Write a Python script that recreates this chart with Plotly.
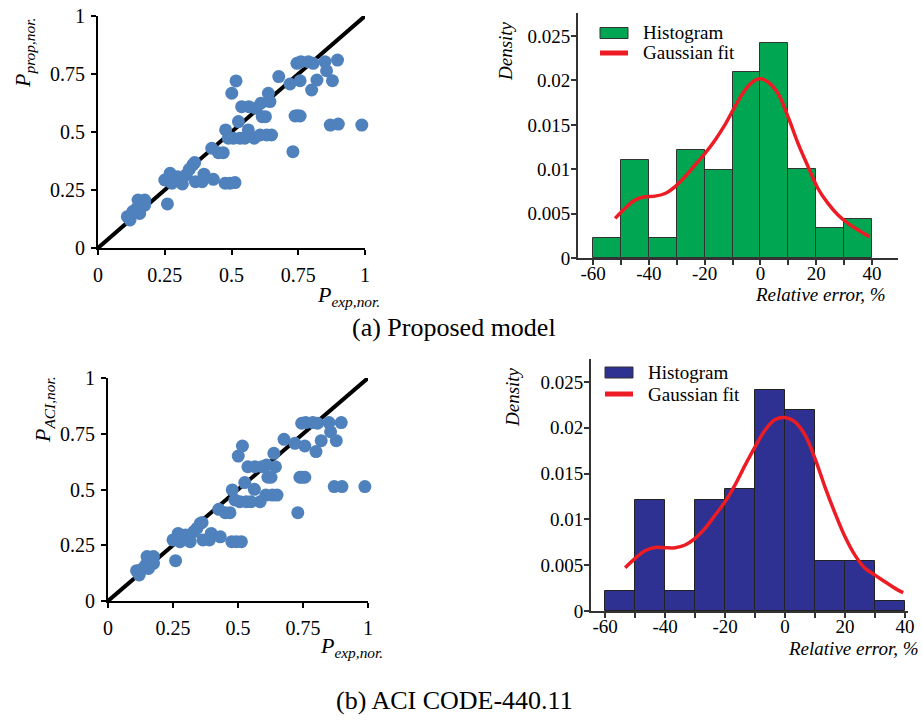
import plotly.graph_objects as go

# ---------------- data ----------------
# experimental normalized capacity (shared by both scatter panels)
p_exp = [0.11, 0.12, 0.13, 0.145, 0.15, 0.175, 0.163, 0.156, 0.175,
         0.26, 0.25, 0.27, 0.277, 0.298, 0.316, 0.33, 0.342, 0.355, 0.362,
         0.365, 0.397, 0.39, 0.432, 0.426, 0.451, 0.469, 0.476, 0.494, 0.513,
         0.478, 0.488, 0.526, 0.501, 0.517, 0.507, 0.532, 0.55, 0.563, 0.585,
         0.607, 0.632, 0.65, 0.538, 0.565, 0.592, 0.61, 0.615, 0.627, 0.638,
         0.644, 0.677, 0.719, 0.73, 0.738, 0.757, 0.745, 0.757, 0.788, 0.806,
         0.80, 0.82, 0.85, 0.856, 0.87, 0.878, 0.897, 0.90, 0.988, 0.76, 0.747]
# proposed model prediction
p_prop = [0.135, 0.121, 0.157, 0.171, 0.207, 0.207, 0.178, 0.149, 0.185,
          0.19, 0.293, 0.322, 0.279, 0.307, 0.276, 0.315, 0.339, 0.358, 0.368,
          0.286, 0.318, 0.286, 0.296, 0.43, 0.411, 0.411, 0.279, 0.279, 0.282,
          0.509, 0.473, 0.545, 0.667, 0.72, 0.473, 0.473, 0.473, 0.509, 0.473,
          0.487, 0.487, 0.487, 0.609, 0.609, 0.602, 0.624, 0.566, 0.566, 0.667,
          0.631, 0.739, 0.707, 0.415, 0.569, 0.569, 0.796, 0.721, 0.803, 0.796,
          0.681, 0.724, 0.803, 0.764, 0.530, 0.721, 0.81, 0.534, 0.530, 0.803, 0.57]
# ACI CODE-440.11 prediction
p_aci = [0.136, 0.117, 0.142, 0.161, 0.199, 0.199, 0.176, 0.146, 0.169,
         0.181, 0.274, 0.303, 0.266, 0.296, 0.266, 0.311, 0.326, 0.348, 0.352,
         0.274, 0.303, 0.274, 0.288, 0.411, 0.396, 0.396, 0.266, 0.266, 0.266,
         0.498, 0.453, 0.531, 0.650, 0.695, 0.445, 0.445, 0.445, 0.501, 0.445,
         0.475, 0.475, 0.475, 0.602, 0.602, 0.602, 0.61, 0.555, 0.555, 0.662,
         0.602, 0.725, 0.707, 0.396, 0.555, 0.555, 0.797, 0.695, 0.80, 0.797,
         0.67, 0.719, 0.80, 0.759, 0.513, 0.719, 0.80, 0.513, 0.513, 0.80, 0.555]
diag = [0, 1]

# histogram of relative error (%), bins of width 10 starting at -60
bin_left = [-60, -50, -40, -30, -20, -10, 0, 10, 20, 30]
dens_prop = [0.00225, 0.0110, 0.00225, 0.01216, 0.00995, 0.02096, 0.02425,
             0.0100, 0.00337, 0.00445]
dens_aci = [0.00222, 0.01206, 0.00222, 0.01206, 0.01334, 0.02416, 0.02198,
            0.00545, 0.00545, 0.00109]

# Gaussian fit curves
fit_x_prop = [-52.1, -48.6, -45.0, -41.4, -37.8, -34.2, -30.7, -27.1, -23.5,
              -19.9, -16.3, -12.8, -9.2, -5.6, -2.0, 0.0, 2.7, 6.3, 9.9, 13.5,
              17.1, 20.6, 24.2, 27.8, 31.4, 35.0, 39.1]
fit_y_prop = [0.00446, 0.00558, 0.00652, 0.0069, 0.00697, 0.00727, 0.00802,
              0.00915, 0.01046, 0.01177, 0.01327, 0.01496, 0.01702, 0.01889,
              0.02001, 0.0202, 0.01983, 0.01852, 0.01589, 0.01289, 0.01027,
              0.00783, 0.00615, 0.00484, 0.0039, 0.00315, 0.0024]
fit_x_aci = [-53.3, -50.0, -46.7, -43.3, -40.0, -36.7, -33.3, -30.0, -26.7,
             -23.3, -20.0, -16.7, -13.3, -10.0, -6.7, -3.3, 0.0, 3.3, 6.7,
             10.0, 13.3, 16.7, 20.0, 23.3, 26.7, 30.0, 33.3, 36.7, 39.4]
fit_y_aci = [0.00472, 0.00574, 0.00658, 0.00694, 0.0069, 0.0069, 0.0072,
             0.00792, 0.00901, 0.01047, 0.01192, 0.01374, 0.01592, 0.01791,
             0.01973, 0.02089, 0.02111, 0.02064, 0.01919, 0.01664, 0.01355,
             0.01065, 0.0081, 0.0061, 0.00465, 0.00392, 0.0032, 0.00247, 0.002]

sc_ticks = [0, 0.25, 0.5, 0.75, 1]
sc_ticktext = ["0", "0.25", "0.5", "0.75", "1"]
h_xticks = [-60, -50, -40, -30, -20, -10, 0, 10, 20, 30, 40]
h_xtext = ["-60", "", "-40", "", "-20", "", "0", "", "20", "", "40"]
h_yticks = [0, 0.005, 0.01, 0.015, 0.02, 0.025]
h_ytext = ["0", "0.005", "0.01", "0.015", "0.02", "0.025"]
legend_labels = ["Histogram", "Gaussian fit"]

# ---------------- figure ----------------
W, H = 922, 720
SERIF = "Liberation Serif, Times New Roman, serif"
DOT = "#4F81BD"
GREEN = "#00A651"
NAVY = "#2E3192"
RED = "#ED1C24"


def px(x):
    return x / W


def py(y):
    return 1 - y / H


fig = go.Figure()
bin_center = [b + 5 for b in bin_left]

# top-left scatter
fig.add_trace(go.Scatter(x=diag, y=diag, mode="lines", line=dict(color="black", width=4),
                         xaxis="x", yaxis="y", showlegend=False, hoverinfo="skip"))
fig.add_trace(go.Scatter(x=p_exp, y=p_prop, mode="markers",
                         marker=dict(color=DOT, size=13, line=dict(width=0)),
                         xaxis="x", yaxis="y", showlegend=False, cliponaxis=False))
# top-right histogram
fig.add_trace(go.Bar(x=bin_center, y=dens_prop, width=10, name=legend_labels[0],
                     marker=dict(color=GREEN, line=dict(color="#333333", width=1)),
                     xaxis="x2", yaxis="y2", showlegend=False))
fig.add_trace(go.Scatter(x=fit_x_prop, y=fit_y_prop, mode="lines", name=legend_labels[1],
                         line=dict(color=RED, width=3.5, shape="spline", smoothing=1.0),
                         xaxis="x2", yaxis="y2", showlegend=False))
# bottom-left scatter
fig.add_trace(go.Scatter(x=diag, y=diag, mode="lines", line=dict(color="black", width=4),
                         xaxis="x3", yaxis="y3", showlegend=False, hoverinfo="skip"))
fig.add_trace(go.Scatter(x=p_exp, y=p_aci, mode="markers",
                         marker=dict(color=DOT, size=13, line=dict(width=0)),
                         xaxis="x3", yaxis="y3", showlegend=False, cliponaxis=False))
# bottom-right histogram
fig.add_trace(go.Bar(x=bin_center, y=dens_aci, width=10, name=legend_labels[0],
                     marker=dict(color=NAVY, line=dict(color="#222222", width=1)),
                     xaxis="x4", yaxis="y4", showlegend=False))
fig.add_trace(go.Scatter(x=fit_x_aci, y=fit_y_aci, mode="lines", name=legend_labels[1],
                         line=dict(color=RED, width=3.5, shape="spline", smoothing=1.0),
                         xaxis="x4", yaxis="y4", showlegend=False))

tick_font_sc = dict(family=SERIF, size=20, color="black")
tick_font_h = dict(family=SERIF, size=19, color="black")


def sc_axis(domain, anchor, standoff):
    return dict(domain=domain, anchor=anchor, range=[0, 1], showline=True,
                linecolor="black", linewidth=2, ticks="outside", ticklen=5,
                tickwidth=2, tickcolor="black", tickvals=sc_ticks, ticktext=sc_ticktext,
                showgrid=False, zeroline=False, tickfont=tick_font_sc, fixedrange=True,
                automargin=False, ticklabelstandoff=standoff)


def h_xaxis(domain, anchor, rng):
    return dict(domain=domain, anchor=anchor, range=rng, showline=True,
                linecolor="#333333", linewidth=2, ticks="outside", ticklen=5,
                tickwidth=1.5, tickcolor="#333333", tickvals=h_xticks, ticktext=h_xtext,
                showgrid=False, zeroline=False, tickfont=tick_font_h, automargin=False,
                ticklabelstandoff=-8)


def h_yaxis(domain, anchor, rng):
    return dict(domain=domain, anchor=anchor, range=rng, showline=True,
                linecolor="#333333", linewidth=2, ticks="outside", ticklen=5,
                tickwidth=1.5, tickcolor="#333333", tickvals=h_yticks, ticktext=h_ytext,
                showgrid=False, zeroline=False, tickfont=tick_font_h, automargin=False,
                ticklabelstandoff=-3)


fig.update_layout(
    width=W, height=H,
    margin=dict(l=0, r=0, t=0, b=0, autoexpand=False),
    paper_bgcolor="white", plot_bgcolor="white",
    font=dict(family=SERIF, color="black"),
    bargap=0, showlegend=False,
    xaxis=sc_axis([px(98), px(365)], "y", 3),
    yaxis=sc_axis([py(248), py(16)], "x", 2),
    xaxis2=h_xaxis([px(578), px(898)], "y2", [-65.4, 49.3]),
    yaxis2=h_yaxis([py(258), py(13)], "x2", [0, 0.0276]),
    xaxis3=sc_axis([px(108), px(368)], "y3", 3),
    yaxis3=sc_axis([py(601), py(378)], "x3", 2),
    xaxis4=h_xaxis([px(591), px(908)], "y4", [-64.7, 41.0]),
    yaxis4=h_yaxis([py(611), py(359)], "x4", [0, 0.0275]),
)

ann = []
shapes = []


def add_text(text, x, y, size, angle=0, xanchor="center"):
    ann.append(dict(text=text, x=px(x), y=py(y), xref="paper", yref="paper",
                    showarrow=False, textangle=angle, xanchor=xanchor, yanchor="middle",
                    font=dict(family=SERIF, size=size, color="black")))


def add_legend(x0, y_hist, y_fit, color):
    # histogram swatch
    shapes.append(dict(type="rect", xref="paper", yref="paper",
                       x0=px(x0), x1=px(x0 + 28), y0=py(y_hist + 5.5), y1=py(y_hist - 5.5),
                       fillcolor=color, line=dict(color="#333333", width=1)))
    # fit swatch
    shapes.append(dict(type="line", xref="paper", yref="paper",
                       x0=px(x0), x1=px(x0 + 28), y0=py(y_fit), y1=py(y_fit),
                       line=dict(color=RED, width=5)))
    add_text(legend_labels[0], x0 + 41, y_hist, 19, xanchor="left")
    add_text(legend_labels[1], x0 + 41, y_fit, 19, xanchor="left")


add_legend(600, 33, 53, GREEN)
add_legend(605, 372.5, 394, NAVY)

add_text("<i>P</i><sub><i>prop,nor.</i></sub>", 24, 53, 22, -90)
add_text("<i>P</i><sub><i>exp,nor.</i></sub>", 348, 296, 22)
add_text("<i>P</i><sub><i>ACI,nor.</i></sub>", 44, 410, 22, -90)
add_text("<i>P</i><sub><i>exp,nor.</i></sub>", 351, 647, 22)
add_text("<i>Density</i>", 506, 51, 19, -90)
add_text("<i>Relative error, %</i>", 820, 294, 19)
add_text("<i>Density</i>", 512, 397, 19, -90)
add_text("<i>Relative error, %</i>", 853, 648, 19)
add_text("(a) Proposed model", 454, 328, 26)
add_text("(b) ACI CODE-440.11", 454, 700, 26)
fig.update_layout(annotations=ann, shapes=shapes)

fig.write_html("out.html", config={"displayModeBar": False},
               post_script="document.body.style.margin='0px';")
